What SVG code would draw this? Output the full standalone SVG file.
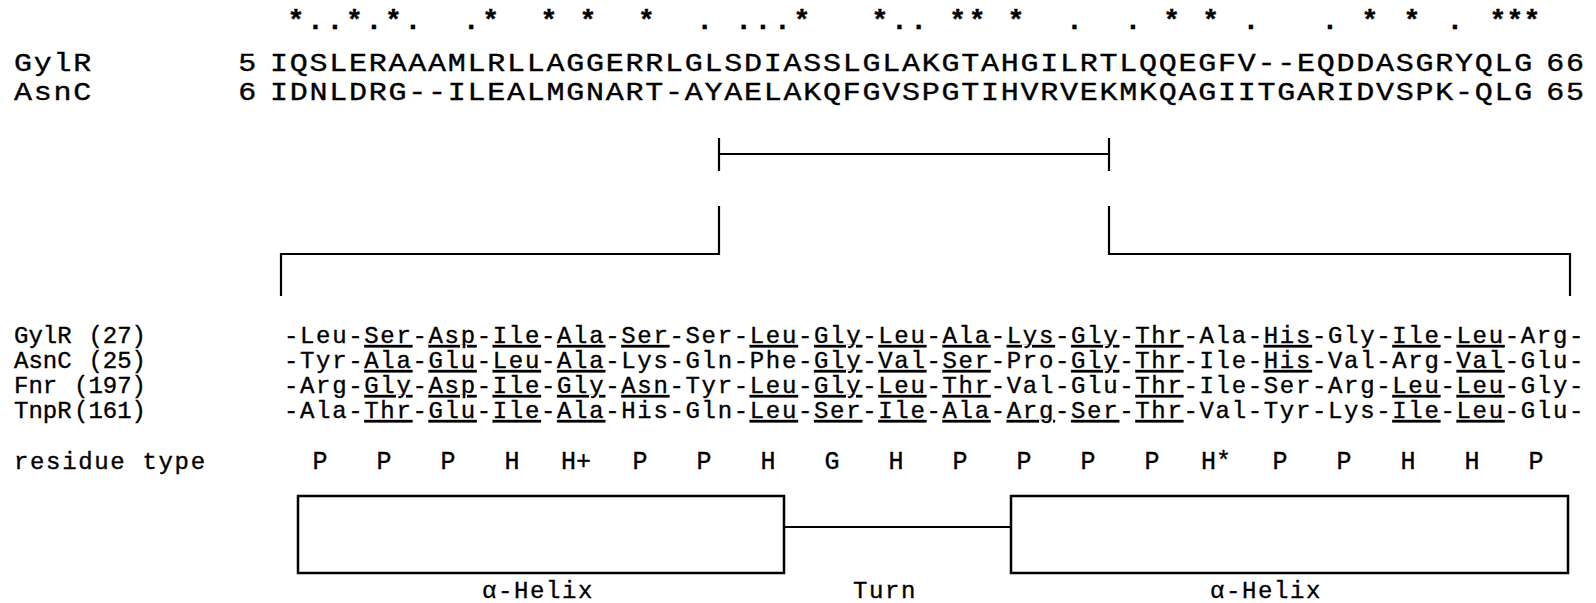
<svg xmlns="http://www.w3.org/2000/svg" width="1596" height="603" viewBox="0 0 1596 603">
<style>
text { font-family: "Liberation Mono", "DejaVu Sans Mono", monospace; fill: #000; stroke: #000; stroke-width: 0.35px; }
.top { font-size: 25px; letter-spacing: 1.458px; }
.num { font-size: 25px; letter-spacing: 1.458px; }
.star { font-size: 28px; font-weight: bold; text-anchor: middle; }
.low { font-size: 24px; letter-spacing: 1.66px; }
.lab { font-size: 24px; }
.end { font-size: 24px; text-anchor: end; }
.rt { font-size: 25px; text-anchor: middle; }
.cap { font-size: 24px; letter-spacing: 1.6px; text-anchor: middle; }
.u { text-decoration: underline; }
.ln { stroke: #000; stroke-width: 2.2; fill: none; }
.box { stroke: #000; stroke-width: 2.5; fill: none; }
</style>
<rect width="1596" height="603" fill="#fff"/>

<g id="alignment-top">
<text class="star" x="296 315.5 334.9 354.4 373.8 393.3 412.8 471.1 490.6 549 587.9 646.3 704.7 743.6 763 782.5 802 879.8 899.3 918.7 957.6 977.1 1016 1074.4 1132.8 1171.7 1210.6 1251 1330 1370 1412 1455 1498 1515 1532" y="29">*..*.*..****....**..***..**..**.***</text>
<g transform="scale(1.2 1)">
<text class="top" x="11.67" y="71">GylR</text>
<text class="num" x="198.5" y="71">5</text>
<text class="top" x="225" y="71">IQSLERAAAMLRLLAGGERRLGLSDIASSLGLAKGTAHGILRTLQQEGFV--EQDDASGRYQLG</text>
<text class="num" x="1288.5" y="71">66</text>
<text class="top" x="11.67" y="100">AsnC</text>
<text class="num" x="198.5" y="100">6</text>
<text class="top" x="225" y="100">IDNLDRG--ILEALMGNART-AYAELAKQFGVSPGTIHVRVEKMKQAGIITGARIDVSPK-QLG</text>
<text class="num" x="1288.5" y="100">65</text>
</g>
</g>

<g id="connectors">
<path class="ln" d="M719,138 V171 M1109,138 V171 M719,154 H1109"/>
<path class="ln" d="M719,206 V254 H281 V296 M1109,206 V254 H1570 V296"/>
<path class="ln" d="M784,527 H1011"/>
</g>

<g id="row-gylr">
<text class="lab" x="14" y="343">GylR</text>
<text class="end" x="146" y="343">(27)</text>
<text class="low" x="284" y="343">-Leu-<tspan class="u">Ser</tspan>-<tspan class="u">Asp</tspan>-<tspan class="u">Ile</tspan>-<tspan class="u">Ala</tspan>-<tspan class="u">Ser</tspan>-Ser-<tspan class="u">Leu</tspan>-<tspan class="u">Gly</tspan>-<tspan class="u">Leu</tspan>-<tspan class="u">Ala</tspan>-<tspan class="u">Lys</tspan>-<tspan class="u">Gly</tspan>-<tspan class="u">Thr</tspan>-Ala-<tspan class="u">His</tspan>-Gly-<tspan class="u">Ile</tspan>-<tspan class="u">Leu</tspan>-Arg-</text>
</g>
<g id="row-asnc">
<text class="lab" x="14" y="368">AsnC</text>
<text class="end" x="146" y="368">(25)</text>
<text class="low" x="284" y="368">-Tyr-<tspan class="u">Ala</tspan>-<tspan class="u">Glu</tspan>-<tspan class="u">Leu</tspan>-<tspan class="u">Ala</tspan>-Lys-Gln-Phe-<tspan class="u">Gly</tspan>-<tspan class="u">Val</tspan>-<tspan class="u">Ser</tspan>-Pro-<tspan class="u">Gly</tspan>-<tspan class="u">Thr</tspan>-Ile-<tspan class="u">His</tspan>-Val-Arg-<tspan class="u">Val</tspan>-Glu-</text>
</g>
<g id="row-fnr">
<text class="lab" x="14" y="393">Fnr</text>
<text class="end" x="146" y="393">(197)</text>
<text class="low" x="284" y="393">-Arg-<tspan class="u">Gly</tspan>-<tspan class="u">Asp</tspan>-<tspan class="u">Ile</tspan>-<tspan class="u">Gly</tspan>-<tspan class="u">Asn</tspan>-Tyr-<tspan class="u">Leu</tspan>-<tspan class="u">Gly</tspan>-<tspan class="u">Leu</tspan>-<tspan class="u">Thr</tspan>-Val-Glu-<tspan class="u">Thr</tspan>-Ile-Ser-Arg-<tspan class="u">Leu</tspan>-<tspan class="u">Leu</tspan>-Gly-</text>
</g>
<g id="row-tnpr">
<text class="lab" x="14" y="418">TnpR</text>
<text class="end" x="146" y="418">(161)</text>
<text class="low" x="284" y="418">-Ala-<tspan class="u">Thr</tspan>-<tspan class="u">Glu</tspan>-<tspan class="u">Ile</tspan>-<tspan class="u">Ala</tspan>-His-Gln-<tspan class="u">Leu</tspan>-<tspan class="u">Ser</tspan>-<tspan class="u">Ile</tspan>-<tspan class="u">Ala</tspan>-<tspan class="u">Arg</tspan>-<tspan class="u">Ser</tspan>-<tspan class="u">Thr</tspan>-Val-Tyr-Lys-<tspan class="u">Ile</tspan>-<tspan class="u">Leu</tspan>-Glu-</text>
</g>

<g id="residue-type">
<text class="low" x="14" y="469">residue type</text>
<text class="rt" y="469"><tspan x="320">P</tspan><tspan x="384">P</tspan><tspan x="448">P</tspan><tspan x="512">H</tspan><tspan x="576">H+</tspan><tspan x="640">P</tspan><tspan x="704">P</tspan><tspan x="768">H</tspan><tspan x="832">G</tspan><tspan x="896">H</tspan><tspan x="960">P</tspan><tspan x="1024">P</tspan><tspan x="1088">P</tspan><tspan x="1152">P</tspan><tspan x="1216">H*</tspan><tspan x="1280">P</tspan><tspan x="1344">P</tspan><tspan x="1408">H</tspan><tspan x="1472">H</tspan><tspan x="1536">P</tspan></text>
</g>

<g id="helix-1">
<rect class="box" x="298" y="496" width="486" height="77"/>
<text class="cap" x="538" y="598">α-Helix</text>
</g>
<g id="turn">
<text class="cap" x="885" y="598">Turn</text>
</g>
<g id="helix-2">
<rect class="box" x="1011" y="496" width="557" height="77"/>
<text class="cap" x="1266" y="598">α-Helix</text>
</g>
</svg>
